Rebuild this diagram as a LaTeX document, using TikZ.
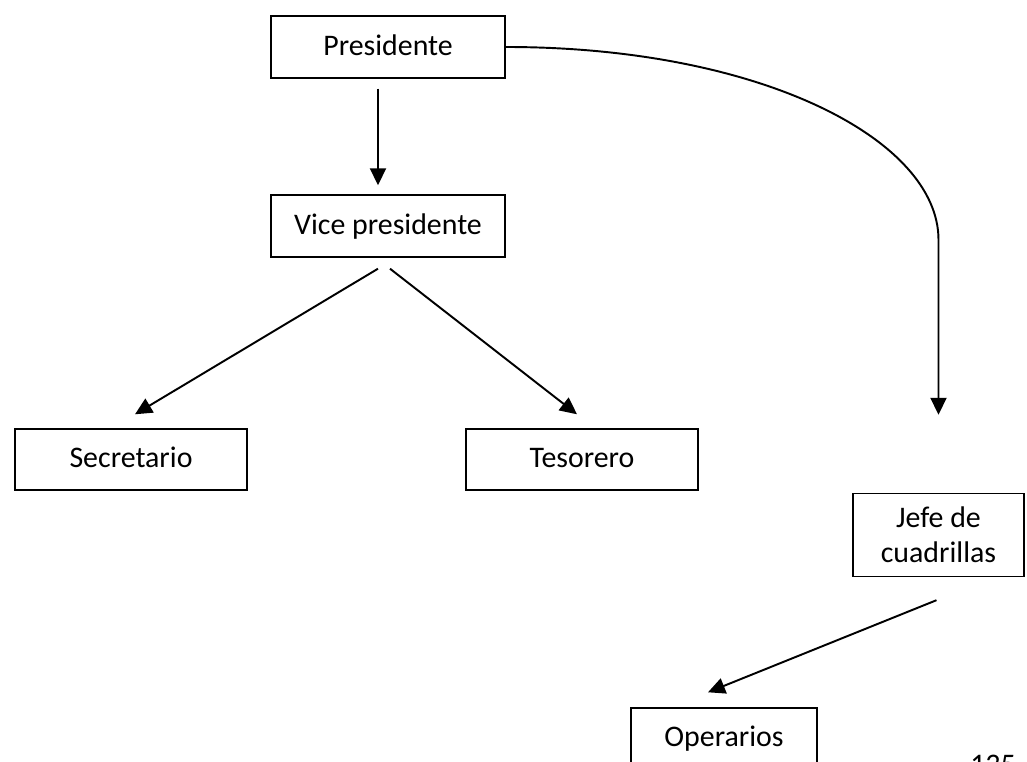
\documentclass[tikz,border=0pt]{standalone}
\usepackage{fontspec}
\setmainfont{Carlito}
\usetikzlibrary{arrows.meta}
\tikzset{
  caja/.style={draw, line width=0.8pt, minimum width=#1, inner sep=0pt,
    text height=0.44cm, text depth=0.10cm, font=\fontsize{17}{20}\selectfont},
  caja/.default=4.68cm,
  flecha/.style={line width=1.1pt, -{Triangle[length=0.34cm,width=0.32cm]}}
}
\begin{document}
\begin{tikzpicture}
			%%%%% START %%%%%
			\clip (0, 0) rectangle (20.54, 15.24);
			
			\node[caja, minimum height=1.24cm] (pres) at (7.76, 14.30) {Presidente};
			\node[caja, minimum height=1.24cm] (vice) at (7.76, 10.72) {Vice presidente};
			\node[caja=4.64cm, minimum height=1.22cm] (secr) at (2.62, 6.05) {Secretario};
			\node[caja=4.64cm, minimum height=1.22cm] (teso) at (11.64, 6.05) {Tesorero};
			\node[caja=3.42cm, minimum height=1.66cm, text height=, text depth=, align=center] (jefe) at (18.77, 4.54) {Jefe de\\cuadrillas};
			\node[caja=3.72cm, minimum height=1.2cm] (oper) at (14.48, 0.48) {Operarios};
			
			\node[anchor=north, font=\fontsize{17}{20}\selectfont] (pag) at (19.86, 0.26) {135};
			
			\draw[flecha] ([xshift=-0.2cm, yshift=-0.2cm]pres.south) -- ([xshift=-0.2cm, yshift=0.18cm]vice.north);
			\draw[flecha] ([xshift=-0.2cm, yshift=-0.22cm]vice.south) -- ([xshift=0.08cm, yshift=0.28cm]secr.north);
			\draw[flecha] ([xshift=0.04cm, yshift=-0.22cm]vice.south) -- ([xshift=-0.1cm, yshift=0.28cm]teso.north);
			\draw[flecha] (pres.east) .. controls +(5.1, 0) and +(0, 2.0) .. ([yshift=5.06cm]jefe.north) -- ([yshift=1.56cm]jefe.north);
			\draw[flecha] ([xshift=-0.04cm, yshift=-0.46cm]jefe.south) -- ([xshift=-0.32cm, yshift=0.3cm]oper.north);
			%%%%% END %%%%%
\end{tikzpicture}
\end{document}
